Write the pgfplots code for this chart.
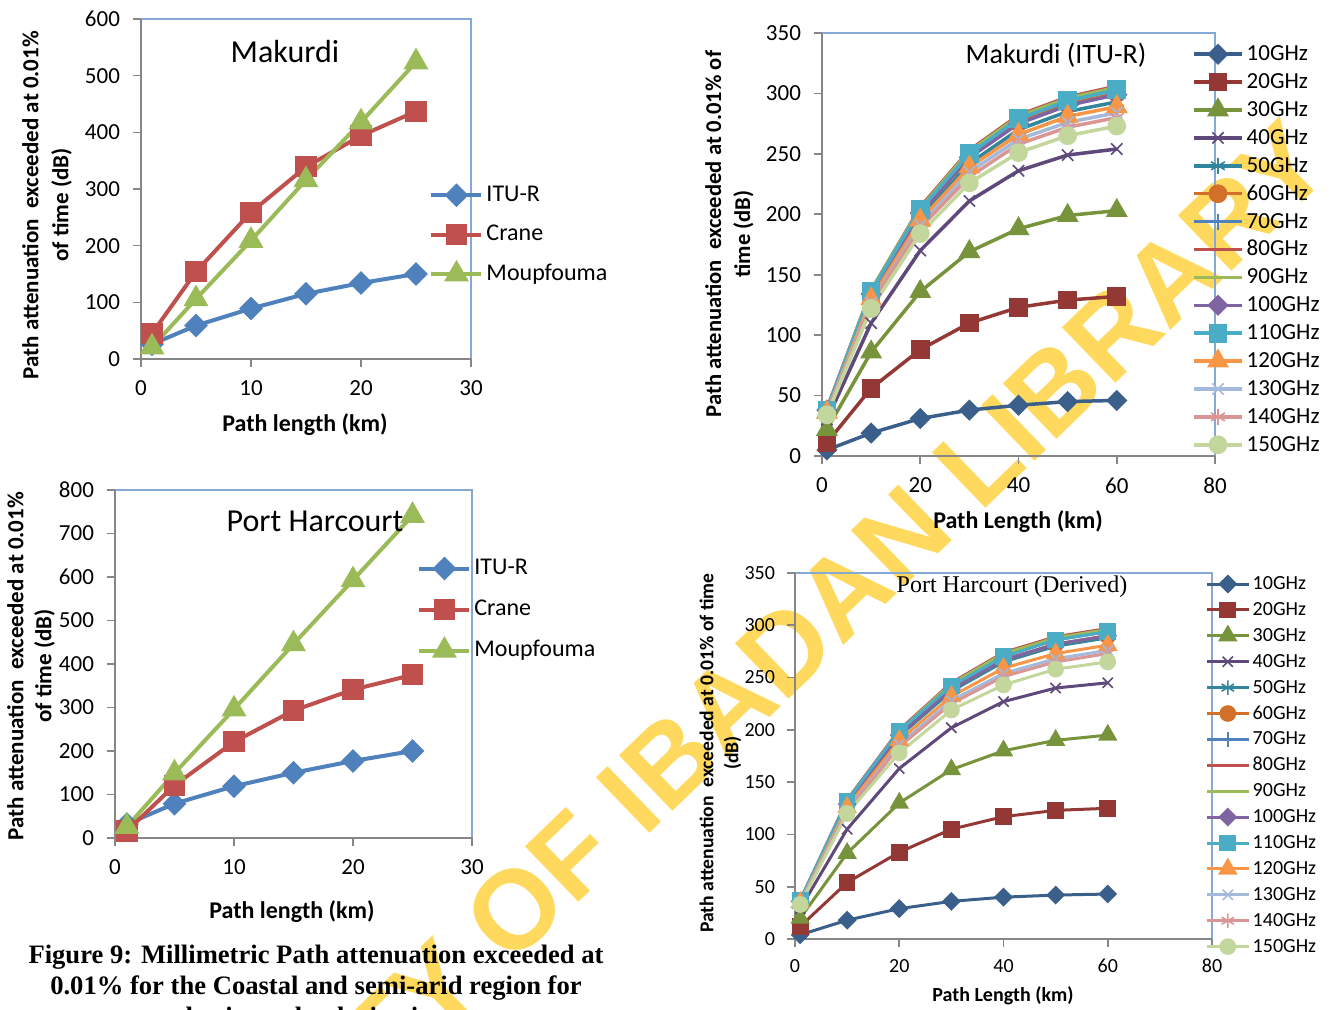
\documentclass[border=0pt]{standalone}
\usepackage{fontspec}
\setmainfont{Carlito}
\newfontfamily\timesfont{Liberation Serif}
\newfontfamily\wmfont{Liberation Sans}
\usepackage{pgfplots}
\pgfplotsset{compat=1.18}

\definecolor{ituB}{HTML}{4F81BD}
\definecolor{craneR}{HTML}{C0504D}
\definecolor{moupG}{HTML}{9BBB59}
\definecolor{s10}{HTML}{3A5F8B}
\definecolor{s20}{HTML}{943836}
\definecolor{s30}{HTML}{77933C}
\definecolor{s40}{HTML}{5F497A}
\definecolor{s50}{HTML}{31859C}
\definecolor{s60}{HTML}{D2702A}
\definecolor{s70}{HTML}{4F81BD}
\definecolor{s80}{HTML}{C0504D}
\definecolor{s90}{HTML}{9BBB59}
\definecolor{s100}{HTML}{8064A2}
\definecolor{s110}{HTML}{4BACC6}
\definecolor{s120}{HTML}{F79646}
\definecolor{s130}{HTML}{A5B9DA}
\definecolor{s140}{HTML}{D99694}
\definecolor{s150}{HTML}{C3D69B}
\definecolor{boxblue}{HTML}{86A8D4}
\definecolor{axgrey}{HTML}{868686}
\definecolor{wmyellow}{HTML}{FFD95E}

\newcommand{\pp}[2]{({(#1)*0.5pt},{(1010-(#2))*0.5pt})}

\pgfplotsset{
  xl/.style={
    scale only axis,
    axis background/.style={draw=boxblue, line width=0.7pt},
    axis x line*=bottom, axis y line*=left,
    axis line style={draw=axgrey, line width=0.8pt, -},
    tick align=outside, major tick length=4pt,
    tick style={draw=axgrey, line width=0.8pt},
    /pgf/number format/assume math mode=true,
    clip=false,
    legend cell align=left,
  },
  p10/.style={s10, mark=square*, mark size={0.72*#1}, mark options={rotate=45, fill=s10, solid}},
  p20/.style={s20, mark=square*, mark size={0.95*#1}, mark options={fill=s20, solid}},
  p30/.style={s30, mark=triangle*, mark size={1.15*#1}, mark options={fill=s30, solid}},
  p40/.style={s40, mark=x, mark size={#1}, mark options={line width=0.8pt, solid}},
  p50/.style={s50, mark=asterisk, mark size={#1}, mark options={line width=0.8pt, solid}},
  p60/.style={s60, mark=*, mark size={0.95*#1}, mark options={fill=s60, solid}},
  p70/.style={s70, mark=|, mark size={#1}, mark options={line width=0.8pt, solid}},
  p80/.style={s80, no markers},
  p90/.style={s90, no markers},
  p100/.style={s100, mark=square*, mark size={0.72*#1}, mark options={rotate=45, fill=s100, solid}},
  p110/.style={s110, mark=square*, mark size={0.95*#1}, mark options={fill=s110, solid}},
  p120/.style={s120, mark=triangle*, mark size={1.15*#1}, mark options={fill=s120, solid}},
  p130/.style={s130, mark=x, mark size={#1}, mark options={line width=0.8pt, solid}},
  p140/.style={s140, mark=asterisk, mark size={#1}, mark options={line width=0.8pt, solid}},
  p150/.style={s150, mark=*, mark size={0.95*#1}, mark options={fill=s150, solid}},
}

\begin{document}
\begin{tikzpicture}
\useasboundingbox (0,0) rectangle (665.5pt,505pt);

% watermark (behind everything)
\node[rotate=44, anchor=east, inner sep=0pt, font=\wmfont\bfseries\fontsize{56}{56}\selectfont, text=wmyellow] at \pp{1309}{143} {UNIVERSITY OF IBADAN LIBRARY};

% ---------------- Top-left: Makurdi ----------------
\begin{axis}[xl, at={(70.5pt,325.5pt)}, anchor=south west, width=165pt, height=170pt,
  xmin=0, xmax=30, ymin=0, ymax=600, xtick={0,10,20,30}, ytick={0,100,...,600},
  tick label style={font=\fontsize{11.5}{13}\selectfont},
  yticklabel style={xshift=-3pt}, xticklabel style={yshift=-3.5pt},
  legend style={at={(0.873,0.518)}, anchor=north west, draw=none, fill=none, inner sep=0pt,
    font=\fontsize{12}{14}\selectfont, row sep=7.75pt,
    nodes={inner xsep=1.5pt, inner ysep=0pt, text height=9pt, text depth=3pt}},
  legend image code/.code={\draw[#1, mark repeat=2, mark phase=2] plot coordinates {(0pt,0pt) (12.5pt,0pt) (25pt,0pt)};},
  every axis plot/.append style={line width=2pt},
]
\addplot[ituB, mark=square*, mark size=3.2pt, mark options={rotate=45, fill=ituB, solid}] coordinates {(1,26)(5,59)(10,89)(15,115)(20,134)(25,150)};
\addplot[craneR, mark=square*, mark size=4.3pt, mark options={fill=craneR, solid}] coordinates {(1,45)(5,154)(10,259)(15,339)(20,394)(25,437)};
\addplot[moupG, mark=triangle*, mark size=5.2pt, mark options={fill=moupG, solid}] coordinates {(1,21)(5,106)(10,209)(15,316)(20,418)(25,524)};
\legend{ITU-R,Crane,Moupfouma}
\end{axis}

% ---------------- Bottom-left: Port Harcourt ----------------
\begin{axis}[xl, at={(57.5pt,86pt)}, anchor=south west, width=178.5pt, height=174pt,
  xmin=0, xmax=30, ymin=0, ymax=800, xtick={0,10,20,30}, ytick={0,100,...,800},
  tick label style={font=\fontsize{11.5}{13}\selectfont},
  yticklabel style={xshift=-3pt}, xticklabel style={yshift=-3.5pt},
  legend style={at={(0.846,0.810)}, anchor=north west, draw=none, fill=none, inner sep=0pt,
    font=\fontsize{12}{14}\selectfont, row sep=8.5pt,
    nodes={inner xsep=1.5pt, inner ysep=0pt, text height=9pt, text depth=3pt}},
  legend image code/.code={\draw[#1, mark repeat=2, mark phase=2] plot coordinates {(0pt,0pt) (12.5pt,0pt) (25pt,0pt)};},
  every axis plot/.append style={line width=2pt},
]
\addplot[ituB, mark=square*, mark size=3.2pt, mark options={rotate=45, fill=ituB, solid}] coordinates {(1,32)(5,79)(10,119)(15,150)(20,177)(25,200)};
\addplot[craneR, mark=square*, mark size=4.3pt, mark options={fill=craneR, solid}] coordinates {(1,16)(5,121)(10,221)(15,293)(20,341)(25,375)};
\addplot[moupG, mark=triangle*, mark size=5.2pt, mark options={fill=moupG, solid}] coordinates {(1,26)(5,149)(10,296)(15,446)(20,593)(25,741)};
\legend{ITU-R,Crane,Moupfouma}
\end{axis}

% ---------------- Top-right: Makurdi (ITU-R) ----------------
\begin{axis}[xl, at={(411pt,277pt)}, anchor=south west, width=196.5pt, height=211.5pt,
  xmin=0, xmax=80, ymin=0, ymax=350, xtick={0,20,...,80}, ytick={0,50,...,350},
  tick label style={font=\fontsize{11.5}{13}\selectfont},
  yticklabel style={xshift=-3pt}, xticklabel style={yshift=-3.5pt},
  legend style={at={(0.941,0.978)}, anchor=north west, draw=none, fill=none, inner sep=0pt,
    font=\fontsize{11.5}{13}\selectfont, row sep=2.45pt,
    nodes={inner xsep=1.5pt, inner ysep=0pt, text height=9pt, text depth=2.5pt}},
  legend image code/.code={\draw[#1, mark repeat=2, mark phase=2] plot coordinates {(0pt,0pt) (12pt,0pt) (24pt,0pt)};},
  every axis plot/.append style={line width=1.75pt},
]
\addplot[p10=4pt] coordinates {(1,5)(10,19)(20,31)(30,38)(40,42)(50,45)(60,46)};
\addplot[p20=4pt] coordinates {(1,11)(10,56)(20,88)(30,110)(40,123)(50,129)(60,132)};
\addplot[p30=4pt] coordinates {(1,22)(10,86)(20,136)(30,169)(40,188)(50,199)(60,203)};
\addplot[p40=4pt] coordinates {(1,30)(10,110)(20,170)(30,211)(40,236)(50,249)(60,254)};
\addplot[p50=4pt] coordinates {(1,37)(10,131)(20,197)(30,242)(40,270)(50,285)(60,293)};
\addplot[p60=4pt] coordinates {(1,38)(10,134)(20,201)(30,247)(40,276)(50,291)(60,300)};
\addplot[p70=4pt] coordinates {(1,38)(10,136)(20,204)(30,250)(40,279)(50,294)(60,303)};
\addplot[p80=4pt] coordinates {(1,39)(10,137)(20,206)(30,253)(40,282)(50,297)(60,306)};
\addplot[p90=4pt] coordinates {(1,38)(10,137)(20,205)(30,252)(40,281)(50,296)(60,305)};
\addplot[p100=4pt] coordinates {(1,38)(10,134)(20,201)(30,247)(40,275)(50,290)(60,299)};
\addplot[p110=4pt] coordinates {(1,38)(10,136)(20,204)(30,250)(40,279)(50,294)(60,303)};
\addplot[p120=4pt] coordinates {(1,36)(10,130)(20,195)(30,239)(40,266)(50,281)(60,289)};
\addplot[p130=4pt] coordinates {(1,36)(10,127)(20,191)(30,235)(40,262)(50,276)(60,284)};
\addplot[p140=4pt] coordinates {(1,35)(10,126)(20,189)(30,231)(40,258)(50,272)(60,280)};
\addplot[p150=4pt] coordinates {(1,34)(10,122)(20,184)(30,226)(40,251)(50,265)(60,273)};
\legend{10GHz,20GHz,30GHz,40GHz,50GHz,60GHz,70GHz,80GHz,90GHz,100GHz,110GHz,120GHz,130GHz,140GHz,150GHz}
\end{axis}

% ---------------- Bottom-right: Port Harcourt (Derived) ----------------
\begin{axis}[xl, at={(397.5pt,35.5pt)}, anchor=south west, width=208.5pt, height=183pt,
  xmin=0, xmax=80, ymin=0, ymax=350, xtick={0,20,...,80}, ytick={0,50,...,350},
  tick label style={font=\fontsize{10}{12}\selectfont},
  yticklabel style={xshift=-2.5pt}, xticklabel style={yshift=-2.5pt},
  legend style={at={(0.983,0.997)}, anchor=north west, draw=none, fill=none, inner sep=0pt,
    font=\fontsize{10}{12}\selectfont, row sep=3.45pt,
    nodes={inner xsep=1.2pt, inner ysep=0pt, text height=7.5pt, text depth=2pt}},
  legend image code/.code={\draw[#1, mark repeat=2, mark phase=2] plot coordinates {(0pt,0pt) (10.5pt,0pt) (21pt,0pt)};},
  every axis plot/.append style={line width=1.5pt},
]
\addplot[p10=3.6pt] coordinates {(1,4)(10,18)(20,29)(30,36)(40,40)(50,42)(60,43)};
\addplot[p20=3.6pt] coordinates {(1,12)(10,54)(20,83)(30,105)(40,117)(50,123)(60,125)};
\addplot[p30=3.6pt] coordinates {(1,20)(10,82)(20,130)(30,162)(40,180)(50,190)(60,195)};
\addplot[p40=3.6pt] coordinates {(1,29)(10,105)(20,163)(30,202)(40,227)(50,240)(60,245)};
\addplot[p50=3.6pt] coordinates {(1,36)(10,128)(20,194)(30,237)(40,265)(50,280)(60,288)};
\addplot[p60=3.6pt] coordinates {(1,36)(10,129)(20,196)(30,239)(40,267)(50,282)(60,290)};
\addplot[p70=3.6pt] coordinates {(1,37)(10,131)(20,198)(30,242)(40,271)(50,286)(60,294)};
\addplot[p80=3.6pt] coordinates {(1,37)(10,133)(20,200)(30,245)(40,274)(50,289)(60,297)};
\addplot[p90=3.6pt] coordinates {(1,37)(10,132)(20,199)(30,244)(40,273)(50,288)(60,296)};
\addplot[p100=3.6pt] coordinates {(1,36)(10,129)(20,195)(30,239)(40,267)(50,282)(60,290)};
\addplot[p110=3.6pt] coordinates {(1,37)(10,132)(20,199)(30,242)(40,270)(50,286)(60,294)};
\addplot[p120=3.6pt] coordinates {(1,35)(10,126)(20,190)(30,232)(40,259)(50,273)(60,281)};
\addplot[p130=3.6pt] coordinates {(1,35)(10,123)(20,186)(30,228)(40,254)(50,268)(60,276)};
\addplot[p140=3.6pt] coordinates {(1,34)(10,122)(20,184)(30,225)(40,251)(50,265)(60,273)};
\addplot[p150=3.6pt] coordinates {(1,33)(10,120)(20,178)(30,219)(40,243)(50,258)(60,265)};
\legend{10GHz,20GHz,30GHz,40GHz,50GHz,60GHz,70GHz,80GHz,90GHz,100GHz,110GHz,120GHz,130GHz,140GHz,150GHz}
\end{axis}

% ---------------- titles and labels ----------------
\node[font=\fontsize{16}{18}\selectfont] at \pp{285}{52} {Makurdi};
\node[font=\fontsize{16}{18}\selectfont] at \pp{315}{521} {Port Harcourt};
\node[font=\fontsize{14}{16}\selectfont] at \pp{1056}{55} {Makurdi (ITU-R)};
\node[font=\timesfont\fontsize{12}{14}\selectfont] at \pp{1012}{587} {Port Harcourt (Derived)};

\node[font=\bfseries\fontsize{12}{14}\selectfont] at \pp{305}{425} {Path length (km)};
\node[font=\bfseries\fontsize{12}{14}\selectfont] at \pp{292}{912} {Path length (km)};
\node[font=\bfseries\fontsize{12}{14}\selectfont] at \pp{1018}{522} {Path Length (km)};
\node[font=\bfseries\fontsize{10}{12}\selectfont] at \pp{1003}{996} {Path Length (km)};

\node[rotate=90, align=center, font=\bfseries\fontsize{11.5}{15}\selectfont] at \pp{47}{205} {Path attenuation\ \ exceeded at 0.01\%\\of time (dB)};
\node[rotate=90, align=center, font=\bfseries\fontsize{11.5}{14}\selectfont] at \pp{31}{666} {Path attenuation\ \ exceeded at 0.01\%\\of time (dB)};
\node[rotate=90, align=center, font=\bfseries\fontsize{11.3}{14.5}\selectfont] at \pp{729.5}{234} {Path attenuation\ \ exceeded at 0.01\% of\\time (dB)};
\node[rotate=90, align=center, font=\bfseries\fontsize{9.8}{12.5}\selectfont] at \pp{720.5}{753} {Path attenuation\ \ exceeded at 0.01\% of time\\(dB)};

% caption
\node[anchor=base, font=\timesfont\bfseries\fontsize{13.3}{15.5}\selectfont] at \pp{316}{964} {Figure 9: Millimetric Path attenuation exceeded at};
\node[anchor=base, font=\timesfont\bfseries\fontsize{13.3}{15.5}\selectfont] at \pp{316}{995} {0.01\% for the Coastal and semi-arid region for};
\node[anchor=base, font=\timesfont\bfseries\fontsize{13.3}{15.5}\selectfont] at \pp{316}{1026} {horizontal polarization};
\end{tikzpicture}
\end{document}
